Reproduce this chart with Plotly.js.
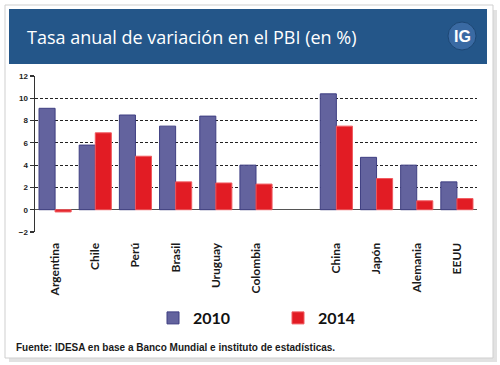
<!DOCTYPE html>
<html>
<head>
<meta charset="utf-8">
<script src="https://cdn.plot.ly/plotly-3.0.1.min.js"></script>
<style>
  html, body { margin: 0; padding: 0; background: #ffffff; }
  #chart { width: 500px; height: 365px; }
</style>
</head>
<body>
<div id="chart"></div>
<script>
// ---- data ----
var categories = ["Argentina", "Chile", "Perú", "Brasil", "Uruguay", "Colombia", " ", "China", "Japón", "Alemania", "EEUU"];
var values2010 = [9.1, 5.8, 8.5, 7.5, 8.4, 4.0, null, 10.4, 4.7, 4.0, 2.5];
var values2014 = [-0.2, 6.9, 4.8, 2.5, 2.4, 2.3, null, 7.5, 2.8, 0.8, 1.0];
var seriesNames = ["2010", "2014"];
var titleText = "Tasa anual de variación en el PBI (en %)";
var sourceText = "Fuente: IDESA en base a Banco Mundial e instituto de estadísticas.";
var yTicks = [-2, 0, 2, 4, 6, 8, 10, 12];

// ---- geometry helpers (layout decoration only) ----
var W = 500, H = 365;
var mL = 35, mR = 23, mT = 76, mB = 133;
var plotW = W - mL - mR, plotH = H - mT - mB;
function fx(px) { return (px - mL) / plotW; }
function fy(py) { return (H - mB - py) / plotH; }

var traces = [
  {
    type: "bar", name: seriesNames[0], x: categories, y: values2010,
    marker: { color: "#63639e", line: { color: "#3f3f82", width: 1 } }
  },
  {
    type: "bar", name: seriesNames[1], x: categories, y: values2014,
    marker: { color: "#e21c24", line: { color: "#f05a5f", width: 1 } }
  }
];

var layout = {
  width: W, height: H,
  margin: { l: mL, r: mR, t: mT, b: mB, pad: 0 },
  paper_bgcolor: "#ffffff",
  plot_bgcolor: "#ffffff",
  barmode: "group",
  bargap: 0.2,
  bargroupgap: 0,
  showlegend: true,
  legend: {
    orientation: "h",
    x: fx(153), y: fy(318), xanchor: "left", yanchor: "middle",
    font: { family: "Lato, 'Liberation Sans', sans-serif", size: 16, color: "#111111", weight: "bold" },
    entrywidth: 80,
    bgcolor: "rgba(0,0,0,0)",
    traceorder: "normal"
  },
  xaxis: {
    type: "category",
    categoryorder: "array", categoryarray: categories,
    range: [-0.5, categories.length - 0.5],
    showline: false, showgrid: false, zeroline: false,
    ticks: "outside", ticklen: 5, tickcolor: "rgba(0,0,0,0)",
    tickangle: -90,
    tickfont: { family: "Lato, 'Liberation Sans', sans-serif", size: 12, color: "#1a1a1a", weight: "bold" }
  },
  yaxis: {
    range: [-2, 12],
    tickvals: yTicks,
    showline: true, linecolor: "#333333", linewidth: 1.5,
    ticks: "outside", ticklen: 4, tickwidth: 1.2, tickcolor: "#333333",
    showgrid: true, gridcolor: "#222222", gridwidth: 1, griddash: "3px,2px",
    zeroline: true, zerolinecolor: "#555555", zerolinewidth: 1.5,
    tickfont: { family: "'Liberation Sans', Arial, sans-serif", size: 8, color: "#222222", weight: "bold" }
  },
  shapes: [
    { type: "rect", xref: "paper", yref: "paper", layer: "above",
      x0: fx(493), x1: fx(497), y0: fy(10), y1: fy(362),
      fillcolor: "#e2e2e2", line: { width: 0 } },
    { type: "rect", xref: "paper", yref: "paper", layer: "above",
      x0: fx(9), x1: fx(497), y0: fy(358), y1: fy(362),
      fillcolor: "#e2e2e2", line: { width: 0 } },
    { type: "rect", xref: "paper", yref: "paper", layer: "above",
      x0: fx(5), x1: fx(493), y0: fy(5), y1: fy(358),
      fillcolor: "rgba(0,0,0,0)", line: { color: "#cfcfcf", width: 1 } },
    { type: "rect", xref: "paper", yref: "paper", layer: "above",
      x0: fx(9), x1: fx(487), y0: fy(9), y1: fy(64),
      fillcolor: "#245689", line: { width: 0 } },
    { type: "circle", xref: "paper", yref: "paper", layer: "above",
      x0: fx(448), x1: fx(476), y0: fy(22), y1: fy(50),
      fillcolor: "#3a6aa3", line: { color: "#1d4774", width: 1 } }
  ],
  annotations: [
    { xref: "paper", yref: "paper", x: fx(25), y: fy(37), xanchor: "left", yanchor: "middle",
      text: titleText, showarrow: false,
      font: { family: "'Open Sans', 'Noto Sans', sans-serif", size: 18, color: "#ffffff" } },
    { xref: "paper", yref: "paper", x: fx(462), y: fy(36), xanchor: "center", yanchor: "middle",
      text: "<b>IG</b>", showarrow: false,
      font: { family: "'Liberation Sans', Arial, sans-serif", size: 16, color: "#ffffff" } },
    { xref: "paper", yref: "paper", x: fx(14), y: fy(347), xanchor: "left", yanchor: "middle",
      text: sourceText, showarrow: false,
      font: { family: "'Liberation Sans', Arial, sans-serif", size: 10, color: "#1a1a1a", weight: "bold" } }
  ]
};

Plotly.newPlot("chart", traces, layout, { displayModeBar: false, staticPlot: true });
</script>
</body>
</html>
